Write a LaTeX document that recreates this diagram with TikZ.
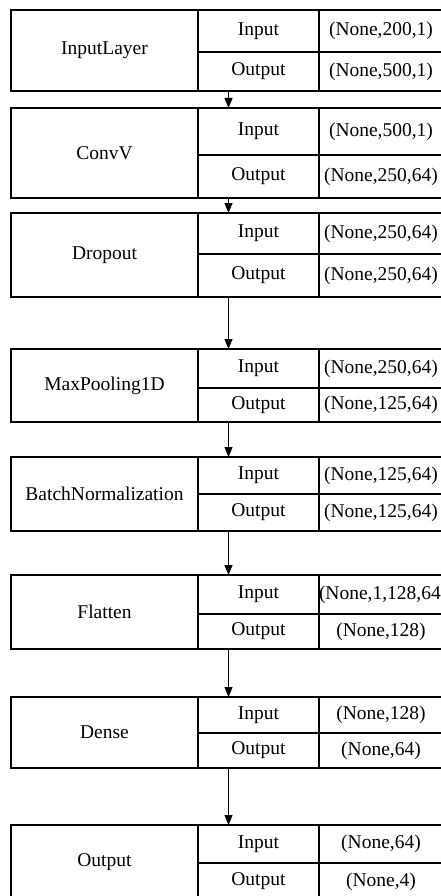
\documentclass[tikz,border=0pt]{standalone}
\usepackage{fontspec}
\setmainfont{Liberation Serif}
\newfontfamily\tnr{Liberation Serif}
\usetikzlibrary{arrows.meta}
\tikzset{
  cell/.style={draw, line width=1.6pt, inner sep=0pt, outer sep=0pt, anchor=north west,
    align=center, font=\tnr\fontsize{19.5}{22}\selectfont},
  arr/.style={-{Triangle[width=8pt,length=10pt]}, line width=1.2pt},
}
% name, top, mid, bottom, label, input shape, output shape
\newcommand\mklayer[7]{%
  \node[cell, minimum width=187pt, minimum height={(#4-#2)*1pt}] (#1) at (11,#2) {#5};
  \node[cell, minimum width=121pt, minimum height={(#3-#2)*1pt}] (#1i) at (198,#2) {\raisebox{-2pt}{Input}};
  \node[cell, text width=124pt, minimum height={(#3-#2)*1pt}] (#1iv) at (319,#2) {\raisebox{-2pt}{#6}};
  \node[cell, minimum width=121pt, minimum height={(#4-#3)*1pt}] (#1o) at (198,#3) {\raisebox{-2pt}{Output}};
  \node[cell, text width=124pt, minimum height={(#4-#3)*1pt}] (#1ov) at (319,#3) {\raisebox{-2pt}{#7}};
}
\begin{document}
\begin{tikzpicture}[x=1pt,y=-1pt]
\useasboundingbox (0,0) rectangle (441,896);
\clip (0,0) rectangle (441,896);
\fill[white] (0,0) rectangle (441,896);
\mklayer{L1}{10}{52}{91}{InputLayer}{(None,200,1)}{(None,500,1)}
\mklayer{L2}{108}{155}{198}{ConvV}{(None,500,1)}{(None,250,64)}
\mklayer{L3}{213}{254}{297}{Dropout}{(None,250,64)}{(None,250,64)}
\mklayer{L4}{349}{388}{422}{MaxPooling1D}{(None,250,64)}{(None,125,64)}
\mklayer{L5}{457}{494}{531}{BatchNormalization}{(None,125,64)}{(None,125,64)}
\mklayer{L6}{575}{614}{649}{Flatten}{(None,1,128,64)}{(None,128)}
\mklayer{L7}{697}{733}{768}{Dense}{(None,128)}{(None,64)}
\mklayer{L8}{825}{863}{900}{Output}{(None,64)}{(None,4)}
\foreach \a/\b in {L1/L2,L2/L3,L3/L4,L4/L5,L5/L6,L6/L7,L7/L8}
  \draw[arr] ([xshift=-30pt]\a o.south) -- ([xshift=-30pt]\b i.north);
\end{tikzpicture}
\end{document}
